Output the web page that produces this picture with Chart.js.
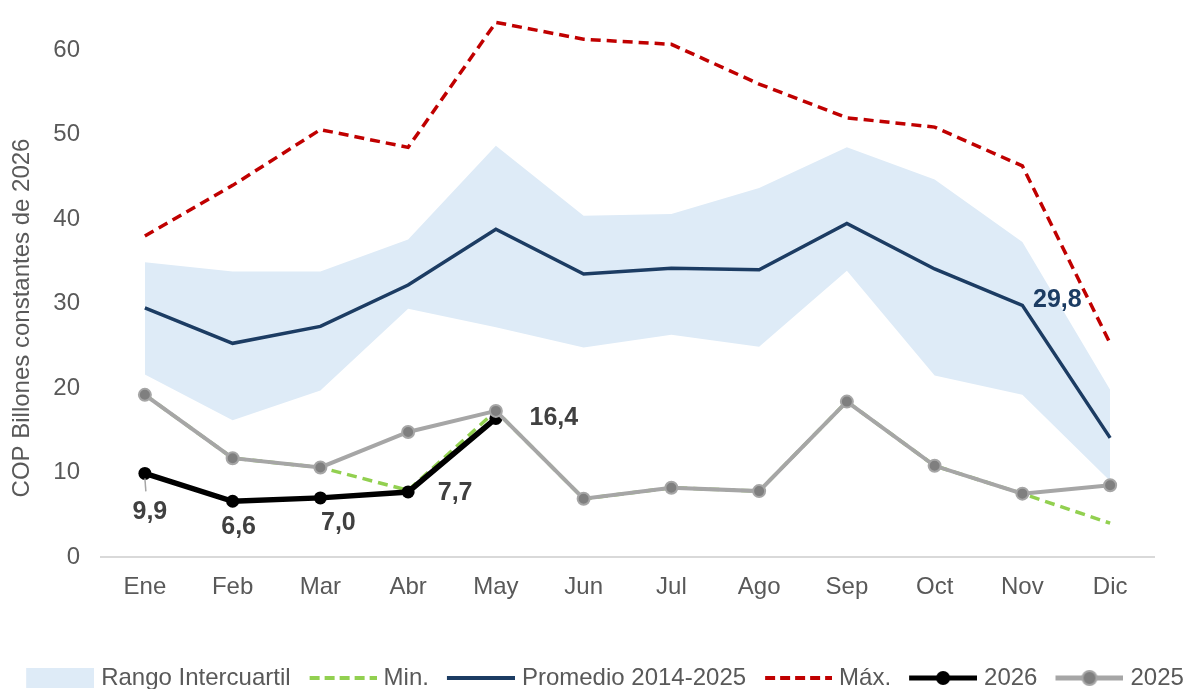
<!DOCTYPE html>
<html>
<head>
<meta charset="utf-8">
<script src="https://cdn.jsdelivr.net/npm/chart.js@4.4.1/dist/chart.umd.min.js"></script>
<style>
  html, body { margin: 0; padding: 0; background: #ffffff; overflow: hidden; }
  #wrap { position: relative; width: 1192px; height: 689px; }
</style>
</head>
<body>
<div id="wrap"><canvas id="chart"></canvas></div>
<script>
// Monthly series, COP billones constantes de 2026
const months   = ['Ene', 'Feb', 'Mar', 'Abr', 'May', 'Jun', 'Jul', 'Ago', 'Sep', 'Oct', 'Nov', 'Dic'];
const q1       = [21.6, 16.2, 19.7, 29.4, 27.2, 24.8, 26.3, 24.9, 33.9, 21.5, 19.2, 9.0];
const q3       = [34.9, 33.8, 33.8, 37.6, 48.7, 40.4, 40.6, 43.7, 48.5, 44.7, 37.3, 19.8];
const minimo   = [19.2, 11.7, 10.6, 7.9, 17.3, 6.9, 8.2, 7.8, 18.4, 10.8, 7.5, 4.0];
const promedio = [29.5, 25.3, 27.3, 32.2, 38.8, 33.5, 34.2, 34.0, 39.5, 34.1, 29.8, 14.1];
const maximo   = [38.0, 44.0, 50.6, 48.5, 63.3, 61.3, 60.7, 56.0, 52.0, 50.9, 46.3, 25.3];
const serie2026 = [9.9, 6.6, 7.0, 7.7, 16.4, null, null, null, null, null, null, null];
const serie2025 = [19.2, 11.7, 10.6, 14.8, 17.3, 6.9, 8.2, 7.8, 18.4, 10.8, 7.5, 8.5];
const yTicks   = [0, 10, 20, 30, 40, 50, 60];

const FONT = "'Liberation Sans', Arial, sans-serif";
const TEXT = '#595959';
const C_BAND = '#deebf7';
const C_MIN = '#92d050';
const C_AVG = '#1c3c63';
const C_MAX = '#c00000';
const C_2025_LINE = '#a6a6a6';
const C_2025_PT = '#7f7f7f';

// Legend swatches: 91px wide canvas, the 68px symbol sits on its right part
function swatch(draw) {
  const c = document.createElement('canvas');
  c.width = 91; c.height = 22;
  const g = c.getContext('2d');
  g.translate(23, 0);
  draw(g);
  return c;
}
const swBand = swatch(g => { g.fillStyle = C_BAND; g.fillRect(0, 1, 68, 20); });
const swDash = color => swatch(g => {
  g.strokeStyle = color; g.lineWidth = 4; g.setLineDash([10, 5]);
  g.beginPath(); g.moveTo(1, 11); g.lineTo(68, 11); g.stroke();
});
const swLine = color => swatch(g => {
  g.strokeStyle = color; g.lineWidth = 4;
  g.beginPath(); g.moveTo(0, 11); g.lineTo(68, 11); g.stroke();
});
const swMarker = (line, fill, border) => swatch(g => {
  g.strokeStyle = line; g.lineWidth = 5;
  g.beginPath(); g.moveTo(0, 11); g.lineTo(68, 11); g.stroke();
  g.fillStyle = fill; g.beginPath(); g.arc(34, 11, 7, 0, Math.PI * 2); g.fill();
  if (border) { g.strokeStyle = border; g.lineWidth = 2; g.stroke(); }
});
const legendSwatches = [
  swBand, swDash(C_MIN), swLine(C_AVG), swDash(C_MAX),
  swMarker('#000000', '#000000'), swMarker(C_2025_LINE, C_2025_PT, C_2025_LINE)
];

// Value labels: dataset index, point index, offset of the label centre from the point
const valueLabels = [
  { ds: 4, i: 0, dx: 5,  dy: 39, color: '#404040', leader: true },
  { ds: 4, i: 1, dx: 6,  dy: 26, color: '#404040' },
  { ds: 4, i: 2, dx: 18, dy: 25, color: '#404040' },
  { ds: 4, i: 3, dx: 47, dy: 1,  color: '#404040' },
  { ds: 4, i: 4, dx: 58, dy: 0,  color: '#404040' },
  { ds: 2, i: 10, dx: 35, dy: -5, color: C_AVG }
];
const fmt = v => v.toFixed(1).replace('.', ',');

const labelPlugin = {
  id: 'valueLabels',
  afterDatasetsDraw(chart) {
    const ctx = chart.ctx;
    ctx.save();
    ctx.font = "bold 25px " + FONT;
    ctx.textAlign = 'center';
    ctx.textBaseline = 'middle';
    valueLabels.forEach(l => {
      const pt = chart.getDatasetMeta(l.ds).data[l.i];
      const v = chart.data.datasets[l.ds].data[l.i];
      if (l.leader) {
        ctx.strokeStyle = C_2025_LINE; ctx.lineWidth = 1.5;
        ctx.beginPath(); ctx.moveTo(pt.x, pt.y + 5); ctx.lineTo(pt.x + 1, pt.y + 18); ctx.stroke();
      }
      ctx.fillStyle = l.color;
      ctx.fillText(fmt(v), pt.x + l.dx, pt.y + l.dy);
    });
    ctx.restore();
  }
};

const axisTitlePlugin = {
  id: 'axisTitle',
  afterDraw(chart) {
    const ctx = chart.ctx;
    ctx.save();
    ctx.translate(22, 318);
    ctx.rotate(-Math.PI / 2);
    ctx.font = "24px " + FONT;
    ctx.fillStyle = TEXT;
    ctx.textAlign = 'center';
    ctx.textBaseline = 'middle';
    ctx.fillText('COP Billones constantes de 2026', 0, 0);
    ctx.restore();
  }
};

const noPad = s => { s.paddingTop = 0; s.paddingBottom = 0; s.paddingLeft = 0; s.paddingRight = 0; };

new Chart(document.getElementById('chart'), {
  type: 'line',
  data: {
    labels: months,
    datasets: [
      { label: 'Rango Intercuartil', data: q3, fill: 6, backgroundColor: C_BAND, borderWidth: 0,
        pointRadius: 0, order: 10 },
      { label: 'Min.', data: minimo, borderColor: C_MIN, borderWidth: 3.5, borderDash: [10, 6],
        pointRadius: 0, fill: false, order: 3 },
      { label: 'Promedio 2014-2025', data: promedio, borderColor: C_AVG, borderWidth: 3.5,
        pointRadius: 0, fill: false, order: 5 },
      { label: 'Máx.', data: maximo, borderColor: C_MAX, borderWidth: 3.5, borderDash: [10, 6],
        pointRadius: 0, fill: false, order: 4 },
      { label: '2026', data: serie2026, borderColor: '#000000', borderWidth: 5.5,
        pointRadius: 6.5, pointBackgroundColor: '#000000', pointBorderWidth: 0,
        fill: false, order: 2 },
      { label: '2025', data: serie2025, borderColor: C_2025_LINE, borderWidth: 4,
        pointRadius: 6, pointBackgroundColor: C_2025_PT, pointBorderColor: C_2025_LINE, pointBorderWidth: 2,
        fill: false, order: 1 },
      { label: 'q1', data: q1, borderWidth: 0, pointRadius: 0, fill: false, order: 11 }
    ]
  },
  options: {
    responsive: true,
    maintainAspectRatio: false,
    animation: false,
    events: [],
    layout: { padding: { left: 0, right: 0, top: 1, bottom: -11 } },
    elements: { line: { tension: 0 } },
    scales: {
      x: {
        offset: true,
        grid: { display: false, drawTicks: false },
        border: { display: true, color: '#d9d9d9', width: 2 },
        ticks: { color: TEXT, font: { family: FONT, size: 24 }, padding: 16, maxRotation: 0, autoSkip: false },
        afterFit: s => { s.height = 109; noPad(s); }
      },
      y: {
        min: 0, max: 65,
        grid: { display: false, drawTicks: false },
        border: { display: false },
        ticks: { color: TEXT, font: { family: FONT, size: 24 }, padding: 21 },
        afterBuildTicks: s => { s.ticks = yTicks.map(v => ({ value: v })); },
        afterFit: s => { s.width = 101; noPad(s); }
      },
      yRight: {
        position: 'right',
        display: true,
        grid: { display: false, drawTicks: false },
        border: { display: false },
        ticks: { display: false },
        afterFit: s => { s.width = 38; noPad(s); }
      }
    },
    plugins: {
      filler: { drawTime: 'beforeDatasetsDraw' },
      tooltip: { enabled: false },
      legend: {
        position: 'bottom',
        labels: {
          usePointStyle: true,
          pointStyleWidth: 81,
          padding: 0,
          color: TEXT,
          font: { family: FONT, size: 24 },
          generateLabels: chart => Chart.defaults.plugins.legend.labels.generateLabels(chart)
            .filter(item => item.datasetIndex !== 6)
            .sort((a, b) => a.datasetIndex - b.datasetIndex)
            .map(item => Object.assign(item, { pointStyle: legendSwatches[item.datasetIndex] }))
        }
      }
    }
  },
  plugins: [labelPlugin, axisTitlePlugin]
});
</script>
</body>
</html>
